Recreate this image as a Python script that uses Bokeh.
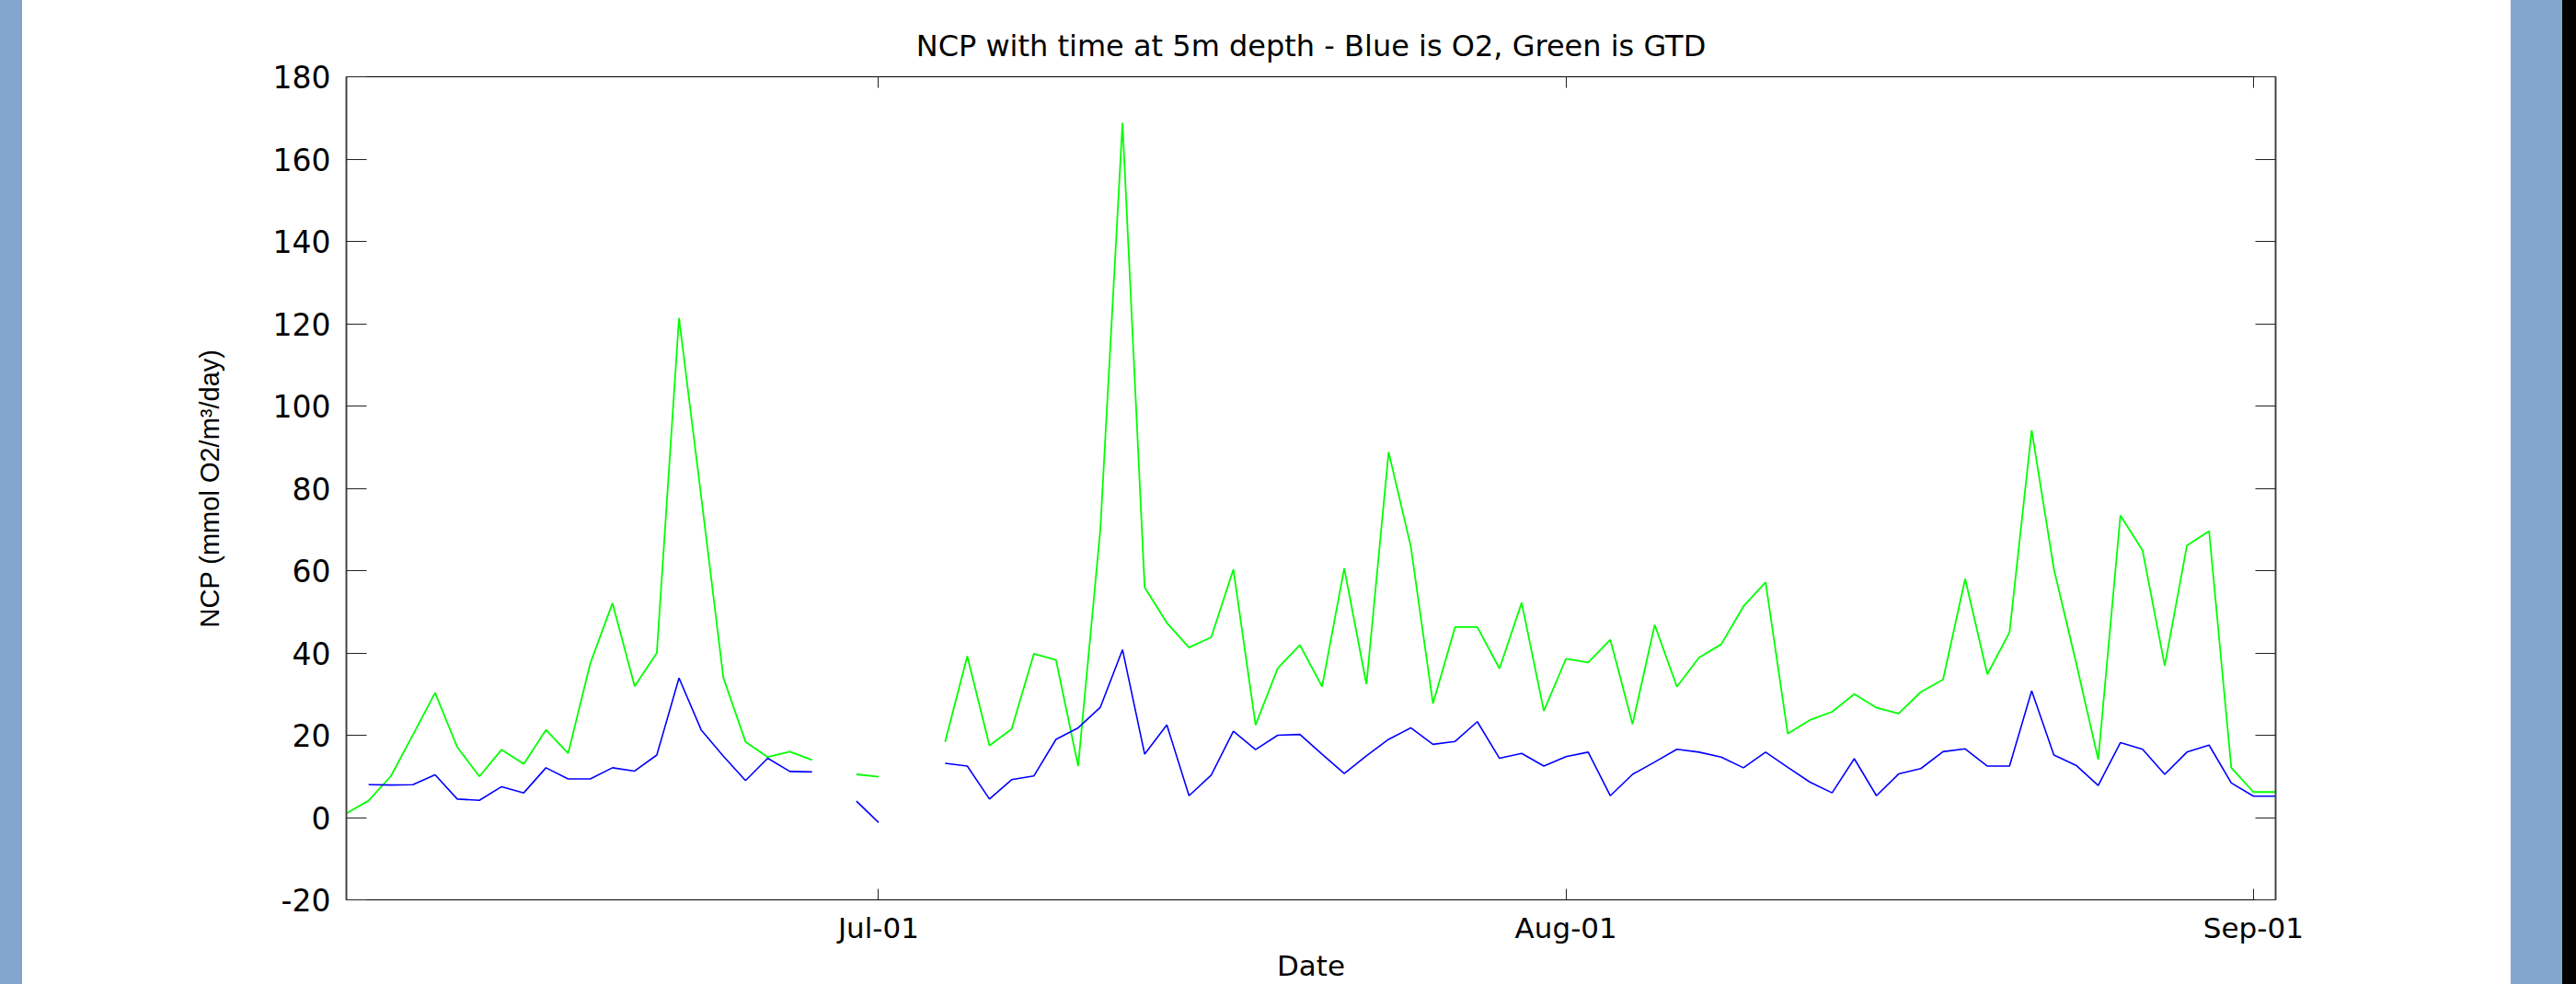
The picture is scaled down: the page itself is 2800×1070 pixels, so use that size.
import numpy as np
import pandas as pd
from bokeh.plotting import figure
from bokeh.models import (Range1d, FixedTicker, DatetimeTickFormatter, LinearAxis,
                          DatetimeAxis, Div, PrintfTickFormatter)
from bokeh.layouts import row
from bokeh.embed import file_html
from bokeh.resources import INLINE

nan = np.nan

# ---- data (daily samples, 7 Jun .. 2 Sep) ----
start_date = "2008-06-07"
n_days = 88
dates = pd.date_range(start_date, periods=n_days, freq="D")

gtd_ncp = [1.0, 4.1, 10.0, 20.1, 30.3, 17.1, 10.0, 16.5, 13.0, 21.3,
           15.6, 37.5, 52.1, 31.9, 40.0, 121.4, 78.0, 34.0, 18.4, 14.7,
           16.0, 14.0, nan, 10.5, 9.9, nan, nan, 18.4, 39.2, 17.5,
           21.5, 39.8, 38.3, 12.5, 70.0, 168.8, 55.9, 47.3, 41.3, 43.8,
           60.3, 22.5, 36.3, 41.9, 31.8, 60.6, 32.4, 88.8, 65.9, 27.7,
           46.3, 46.3, 36.2, 52.2, 25.9, 38.6, 37.7, 43.2, 22.7, 46.8,
           31.8, 38.9, 42.1, 51.3, 57.2, 20.4, 23.7, 25.7, 30.0, 26.7,
           25.3, 30.5, 33.5, 58.0, 34.8, 45.0, 94.1, 60.4, 37.7, 14.1,
           73.4, 64.9, 36.9, 66.1, 69.6, 12.1, 6.2, 6.2]

o2_ncp = [nan, 8.0, 7.9, 8.0, 10.4, 4.5, 4.2, 7.5, 6.0, 12.1,
          9.4, 9.4, 12.1, 11.3, 15.2, 33.9, 21.3, 14.9, 9.0, 14.4,
          11.2, 11.1, nan, 4.0, -1.2, nan, nan, 13.2, 12.5, 4.5,
          9.2, 10.1, 19.0, 21.8, 26.8, 40.8, 15.4, 22.5, 5.3, 10.3,
          21.0, 16.5, 20.0, 20.2, 15.4, 10.7, 15.0, 19.0, 21.8, 17.8,
          18.5, 23.3, 14.4, 15.6, 12.5, 14.8, 15.9, 5.3, 10.5, 13.5,
          16.6, 15.9, 14.7, 12.1, 15.9, 12.2, 8.6, 6.0, 14.3, 5.3,
          10.6, 11.9, 16.0, 16.7, 12.5, 12.5, 30.8, 15.2, 12.7, 7.8,
          18.2, 16.6, 10.5, 15.9, 17.6, 8.4, 5.2, 5.2]

x_tick_dates = ["2008-07-01", "2008-08-01", "2008-09-01"]
x_tick_labels = ["Jul-01", "Aug-01", "Sep-01"]
y_ticks = [-20, 0, 20, 40, 60, 80, 100, 120, 140, 160, 180]

title_text = "NCP with time at 5m depth - Blue is O2, Green is GTD"
x_label = "Date"
y_label = "NCP (mmol O2/m\u00b3/day)"

H = 1070

# ---- figure ----
p = figure(width=2705, height=H, x_axis_type="datetime",
           output_backend="svg", toolbar_location=None,
           x_range=Range1d(dates[0], dates[-1]), y_range=Range1d(-20, 180),
           min_border_left=352, min_border_right=256,
           min_border_top=83, min_border_bottom=92,
           background_fill_color="white", border_fill_color="white")

p.title.text = title_text
p.title.align = "center"
p.title.text_font = "DejaVu Sans"
p.title.text_font_size = "32px"
p.title.text_font_style = "normal"
p.title.text_color = "black"
p.title.standoff = 30

p.grid.visible = False
p.outline_line_color = "black"
p.outline_line_width = 1

x_ticks_ms = [pd.Timestamp(d).value / 1e6 for d in x_tick_dates]
fmt = DatetimeTickFormatter(days="%b-%d", months="%b-%d", years="%b-%d",
                            hours="%b-%d", minutes="%b-%d")

xa = p.xaxis[0]
xa.ticker = FixedTicker(ticks=x_ticks_ms)
xa.formatter = fmt
xa.axis_label = x_label
xa.axis_label_text_font = "DejaVu Sans"
xa.axis_label_text_font_size = "31px"
xa.axis_label_text_font_style = "normal"
xa.axis_label_text_color = "black"
xa.axis_label_standoff = 2
xa.major_label_text_font = "DejaVu Sans"
xa.major_label_text_font_size = "31px"
xa.major_label_text_color = "black"
xa.major_label_standoff = 12
xa.major_tick_in = 12
xa.major_tick_out = 0
xa.minor_tick_line_color = None
xa.axis_line_color = "black"
xa.major_tick_line_color = "#222222"

ya = p.yaxis[0]
ya.ticker = FixedTicker(ticks=y_ticks)
ya.formatter = PrintfTickFormatter(format="%d")
ya.axis_label = y_label
ya.axis_label_text_font = "Liberation Sans"
ya.axis_label_text_font_size = "29px"
ya.axis_label_text_font_style = "normal"
ya.axis_label_text_color = "black"
ya.axis_label_standoff = 50
ya.major_label_text_font = "DejaVu Sans"
ya.major_label_text_font_size = "33px"
ya.major_label_text_color = "black"
ya.major_label_standoff = 17
ya.major_tick_in = 22
ya.major_tick_out = 0
ya.minor_tick_line_color = None
ya.axis_line_color = "#444444"
ya.axis_line_width = 2
ya.major_tick_line_color = "#222222"

top = DatetimeAxis(ticker=FixedTicker(ticks=x_ticks_ms), formatter=fmt,
                   major_label_text_font_size="8px", major_label_text_color=None,
                   major_label_standoff=0,
                   major_tick_in=12, major_tick_out=0, minor_tick_line_color=None,
                   axis_line_color="black", major_tick_line_color="#222222")
p.add_layout(top, "above")

right = LinearAxis(ticker=FixedTicker(ticks=y_ticks),
                   major_label_text_font_size="8px", major_label_text_color=None,
                   major_label_standoff=0,
                   major_tick_in=22, major_tick_out=0, minor_tick_line_color=None,
                   axis_line_color="#444444", axis_line_width=2,
                   major_tick_line_color="#222222")
p.add_layout(right, "right")

p.line(dates, gtd_ncp, line_color="#00ff00", line_width=1.8)
p.line(dates, o2_ncp, line_color="#0000ff", line_width=1.6)

band = "#83a6ce"
left_band = Div(width=24, height=H, margin=(0, 0, 0, 0),
                styles={"background-color": band})
right_band = Div(width=71, height=H, margin=(0, 0, 0, 0),
                 styles={"background": "linear-gradient(to right, %s 0px, %s 56px, black 56px, black 71px)" % (band, band)})

layout = row(left_band, p, right_band, spacing=0)

open("out.html", "w").write(file_html(layout, INLINE))
